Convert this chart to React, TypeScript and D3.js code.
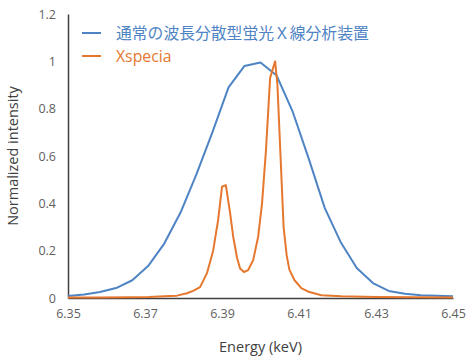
import React, { useEffect, useRef } from 'react';
import * as d3 from 'd3';

// 通常の波長分散型 (blue)
const blueEnergy = [
  6.35, 6.3542, 6.3583, 6.3625, 6.3667, 6.3708, 6.375, 6.3792, 6.3833, 6.3875,
  6.3917, 6.3958, 6.4, 6.4042, 6.4083, 6.4125, 6.4167, 6.4208, 6.425, 6.4292,
  6.4333, 6.4375, 6.4417, 6.4458, 6.45,
];
const blueValues = [
  0.008, 0.015, 0.025, 0.042, 0.075, 0.135, 0.23, 0.36, 0.52, 0.7,
  0.89, 0.98, 0.995, 0.94, 0.79, 0.59, 0.38, 0.237, 0.127, 0.063,
  0.03, 0.018, 0.012, 0.009, 0.007,
];

// Xspecia (orange)
const orangeEnergy = [
  6.35, 6.358, 6.366, 6.371, 6.375, 6.3783, 6.3809, 6.3825, 6.3843, 6.3861,
  6.3877, 6.389, 6.39, 6.391, 6.3921, 6.3929, 6.3939, 6.3947, 6.3957, 6.3968,
  6.3981, 6.3994, 6.4004, 6.4014, 6.4025, 6.4038, 6.4044, 6.4052, 6.406, 6.4068,
  6.4075, 6.4088, 6.4106, 6.4127, 6.4158, 6.421, 6.43, 6.45,
];
const orangeValues = [
  0.002, 0.002, 0.003, 0.004, 0.007, 0.01, 0.02, 0.03, 0.046, 0.105,
  0.2, 0.33, 0.47, 0.477, 0.36, 0.26, 0.17, 0.125, 0.11, 0.118,
  0.16, 0.26, 0.4, 0.62, 0.93, 1.0, 0.9, 0.6, 0.3, 0.18,
  0.12, 0.076, 0.042, 0.025, 0.012, 0.007, 0.004, 0.002,
];

const xTicks = [6.35, 6.37, 6.39, 6.41, 6.43, 6.45];
const yTicks = [0, 0.2, 0.4, 0.6, 0.8, 1, 1.2];

const legendNames = ['通常の波長分散型蛍光Ｘ線分析装置', 'Xspecia'];
const colors = ['#4f84c4', '#e5782e'];

const App: React.FC = () => {
  const svgRef = useRef<SVGSVGElement>(null);
  const width = 470;
  const height = 360;

  useEffect(() => {
    const svg = d3.select(svgRef.current);
    svg.selectAll('*').remove();

    const margin = { top: 14, right: 17, bottom: 62, left: 68 };
    const innerWidth = width - margin.left - margin.right;
    const innerHeight = height - margin.top - margin.bottom;

    const x = d3.scaleLinear().domain([6.35, 6.45]).range([0, innerWidth]);
    const y = d3.scaleLinear().domain([0, 1.2]).range([innerHeight, 0]);

    const g = svg.append('g')
      .attr('transform', `translate(${margin.left},${margin.top})`);

    const font = '"Open Sans", "Noto Sans CJK JP", sans-serif';

    // axes
    const yAxis = g.append('g')
      .call(d3.axisLeft(y).tickValues(yTicks).tickSize(0).tickPadding(12)
        .tickFormat(d => String(d)));
    const xAxis = g.append('g')
      .attr('transform', `translate(0,${innerHeight})`)
      .call(d3.axisBottom(x).tickValues(xTicks).tickSize(0).tickPadding(11)
        .tickFormat(d => d3.format('.2f')(d as number)));

    [xAxis, yAxis].forEach(a => {
      a.select('.domain').attr('stroke', '#404040').attr('stroke-width', 1.5);
      a.selectAll('text')
        .attr('fill', '#5f5f5f')
        .style('font-family', font)
        .style('font-size', '12.5px');
    });

    const series = [
      { e: blueEnergy, v: blueValues },
      { e: orangeEnergy, v: orangeValues },
    ];

    const line = d3.line<[number, number]>()
      .x(d => x(d[0]))
      .y(d => y(d[1]));

    series.forEach((s, i) => {
      const pts = s.e.map((e, j) => [e, s.v[j]] as [number, number]);
      g.append('path')
        .datum(pts)
        .attr('fill', 'none')
        .attr('stroke', colors[i])
        .attr('stroke-width', 2)
        .attr('stroke-linejoin', 'round')
        .attr('d', line);
    });

    // legend
    legendNames.forEach((name, i) => {
      const ly = 33 + i * 23;
      svg.append('line')
        .attr('x1', 82).attr('x2', 101)
        .attr('y1', ly).attr('y2', ly)
        .attr('stroke', colors[i])
        .attr('stroke-width', 2);
      svg.append('text')
        .attr('x', 116)
        .attr('y', ly + 5.5)
        .attr('fill', colors[i])
        .style('font-family', font)
        .style('font-size', '15.8px')
        .text(name);
    });

    // axis titles
    svg.append('text')
      .attr('x', margin.left + innerWidth / 2)
      .attr('y', 352)
      .attr('text-anchor', 'middle')
      .attr('fill', '#404040')
      .style('font-family', font)
      .style('font-size', '14.5px')
      .text('Energy (keV)');

    svg.append('text')
      .attr('transform', 'rotate(-90)')
      .attr('x', -(margin.top + innerHeight / 2))
      .attr('y', 18)
      .attr('text-anchor', 'middle')
      .attr('fill', '#404040')
      .style('font-family', font)
      .style('font-size', '14.5px')
      .text('Normalized intensity');
  }, []);

  return (
    <svg ref={svgRef} width={width} height={height}
      style={{ position: 'absolute', left: 0, top: 0, background: '#fff' }} />
  );
};

export default App;
